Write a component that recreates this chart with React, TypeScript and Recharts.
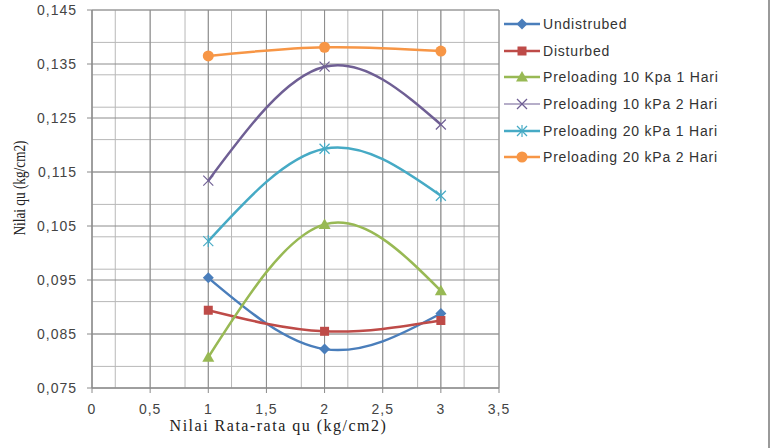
import React from "react";
import {
  LineChart,
  Line,
  XAxis,
  YAxis,
  CartesianGrid,
} from "recharts";

// x values (Nilai Rata-rata qu, kg/cm2)
const xValues = [1, 2, 3];

// qu values per condition
const undisturbed = [0.0954, 0.0822, 0.0888];
const disturbed = [0.0894, 0.0855, 0.0875];
const pre10kpa1 = [0.0807, 0.1053, 0.093];
const pre10kpa2 = [0.1134, 0.1345, 0.1238];
const pre20kpa1 = [0.1022, 0.1193, 0.1106];
const pre20kpa2 = [0.1365, 0.1381, 0.1374];

const seriesNames = [
  "Undistrubed",
  "Disturbed",
  "Preloading 10 Kpa 1 Hari",
  "Preloading 10 kPa 2 Hari",
  "Preloading 20 kPa 1 Hari",
  "Preloading 20 kPa 2 Hari",
];
const seriesValues = [undisturbed, disturbed, pre10kpa1, pre10kpa2, pre20kpa1, pre20kpa2];
const seriesColors = ["#4a7ebb", "#be4b48", "#98b954", "#6f5f94", "#46aac5", "#f79646"];
const seriesMarkers = ["diamond", "square", "triangle", "x", "star", "circle"];

const xTicks = [0, 0.5, 1, 1.5, 2, 2.5, 3, 3.5];
const yTicks = [0.075, 0.085, 0.095, 0.105, 0.115, 0.125, 0.135, 0.145];

// minor gridline positions (Excel-style minor grid)
const xMinorTicks = Array.from({ length: 36 }, (_, i) => i / 10);
const yMinorTicks = Array.from({ length: 36 }, (_, i) => Math.round((0.075 + i * 0.002) * 10000) / 10000);

const chartData = xValues.map((x, i) => {
  const row: Record<string, number> = { x };
  seriesNames.forEach((name, s) => {
    row[name] = seriesValues[s][i];
  });
  return row;
});

const comma = (v: number) => String(v).replace(".", ",");
const fmtY = (v: number) => v.toFixed(3).replace(".", ",");

const SERIF = "'Liberation Serif', 'Times New Roman', serif";
const SANS = "'Liberation Sans', Arial, sans-serif";

function Marker({ cx, cy, shape, color }: { cx: number; cy: number; shape: string; color: string }) {
  if (cx == null || cy == null) return null;
  switch (shape) {
    case "diamond":
      return <polygon points={`${cx},${cy - 5.5} ${cx + 5.5},${cy} ${cx},${cy + 5.5} ${cx - 5.5},${cy}`} fill={color} />;
    case "square":
      return <rect x={cx - 4.5} y={cy - 4.5} width={9} height={9} fill={color} />;
    case "triangle":
      return <polygon points={`${cx},${cy - 6} ${cx + 6},${cy + 4.5} ${cx - 6},${cy + 4.5}`} fill={color} />;
    case "x":
      return (
        <g stroke={color} strokeWidth={1.2}>
          <line x1={cx - 5} y1={cy - 5} x2={cx + 5} y2={cy + 5} />
          <line x1={cx - 5} y1={cy + 5} x2={cx + 5} y2={cy - 5} />
        </g>
      );
    case "star":
      return (
        <g stroke={color} strokeWidth={1.2}>
          <line x1={cx - 5} y1={cy - 5} x2={cx + 5} y2={cy + 5} />
          <line x1={cx - 5} y1={cy + 5} x2={cx + 5} y2={cy - 5} />
          <line x1={cx} y1={cy - 6} x2={cx} y2={cy + 6} />
        </g>
      );
    default:
      return <circle cx={cx} cy={cy} r={5.5} fill={color} />;
  }
}

function LegendBox() {
  return (
    <div
      style={{
        position: "absolute",
        left: 498,
        top: 0,
        width: 272,
        height: 448,
        borderRight: "2px solid #9a9a9a",
        boxSizing: "border-box",
        paddingTop: 11,
        fontFamily: SANS,
        fontSize: 14,
        letterSpacing: 0.8,
        color: "#333",
      }}
    >
      {seriesNames.map((name, i) => (
        <div key={name} style={{ display: "flex", alignItems: "center", height: 26.6 }}>
          <svg width={44} height={14} style={{ flex: "none" }}>
            <line
              x1={6}
              y1={7}
              x2={42}
              y2={7}
              stroke={seriesColors[i]}
              strokeWidth={seriesMarkers[i] === "x" ? 1.2 : 2.5}
            />
            <Marker cx={24} cy={7} shape={seriesMarkers[i]} color={seriesColors[i]} />
          </svg>
          <span style={{ marginLeft: 1 }}>{name}</span>
        </div>
      ))}
    </div>
  );
}

export default function App() {
  const tickStyle = { fontSize: 14, fontFamily: SANS, fill: "#444", letterSpacing: 1 };
  return (
    <div style={{ position: "absolute", left: 0, top: 0, width: 774, height: 448, background: "#fff" }}>
      <LineChart
        width={774}
        height={448}
        data={chartData}
        margin={{ top: 10, right: 275, left: 32, bottom: 10 }}
      >
        <XAxis
          xAxisId="minor"
          type="number"
          dataKey="x"
          domain={[0, 3.5]}
          allowDataOverflow
          ticks={xMinorTicks}
          hide
        />
        <YAxis
          yAxisId="minor"
          type="number"
          domain={[0.075, 0.145]}
          allowDataOverflow
          ticks={yMinorTicks}
          hide
        />
        <CartesianGrid xAxisId="minor" yAxisId="minor" stroke="#b8b8b8" strokeWidth={1} />
        <CartesianGrid stroke="#8c8c8c" strokeWidth={1} />

        <XAxis
          type="number"
          dataKey="x"
          domain={[0, 3.5]}
          allowDataOverflow
          ticks={xTicks}
          tickFormatter={comma}
          tick={tickStyle}
          stroke="#8a8a8a"
          tickSize={5}
          tickMargin={11}
          height={50}
          label={{
            content: (props: any) => {
              const vb = props.viewBox || { x: 92, y: 388, width: 407, height: 50 };
              return (
                <text
                  x={vb.x + vb.width / 2 - 17}
                  y={vb.y + 43}
                  textAnchor="middle"
                  fontSize={16}
                  letterSpacing={1.5}
                  fontFamily={SERIF}
                  fill="#222"
                >
                  Nilai Rata-rata qu (kg/cm2)
                </text>
              );
            },
          }}
        />
        <YAxis
          type="number"
          domain={[0.075, 0.145]}
          allowDataOverflow
          ticks={yTicks}
          tickFormatter={fmtY}
          tick={tickStyle}
          stroke="#8a8a8a"
          tickSize={5}
          tickMargin={10}
          width={60}
          label={{
            content: (props: any) => {
              const vb = props.viewBox || { x: 32, y: 10, height: 378 };
              const cx = vb.x - 13;
              const cy = vb.y + vb.height / 2 - 11;
              return (
                <text
                  x={0}
                  y={0}
                  transform={`translate(${cx} ${cy}) rotate(-90) scale(0.78 1)`}
                  textAnchor="middle"
                  dominantBaseline="central"
                  fontSize={17}
                  fontFamily={SERIF}
                  fill="#222"
                >
                  Nilai qu (kg/cm2)
                </text>
              );
            },
          }}
        />

        {seriesNames.map((name, i) => (
          <Line
            key={name}
            type="natural"
            dataKey={name}
            name={name}
            stroke={seriesColors[i]}
            strokeWidth={2.5}
            isAnimationActive={false}
            dot={(p: any) => (
              <Marker key={`${name}-${p.index}`} cx={p.cx} cy={p.cy} shape={seriesMarkers[i]} color={seriesColors[i]} />
            )}
            activeDot={false}
          />
        ))}
      </LineChart>
      <LegendBox />
    </div>
  );
}
